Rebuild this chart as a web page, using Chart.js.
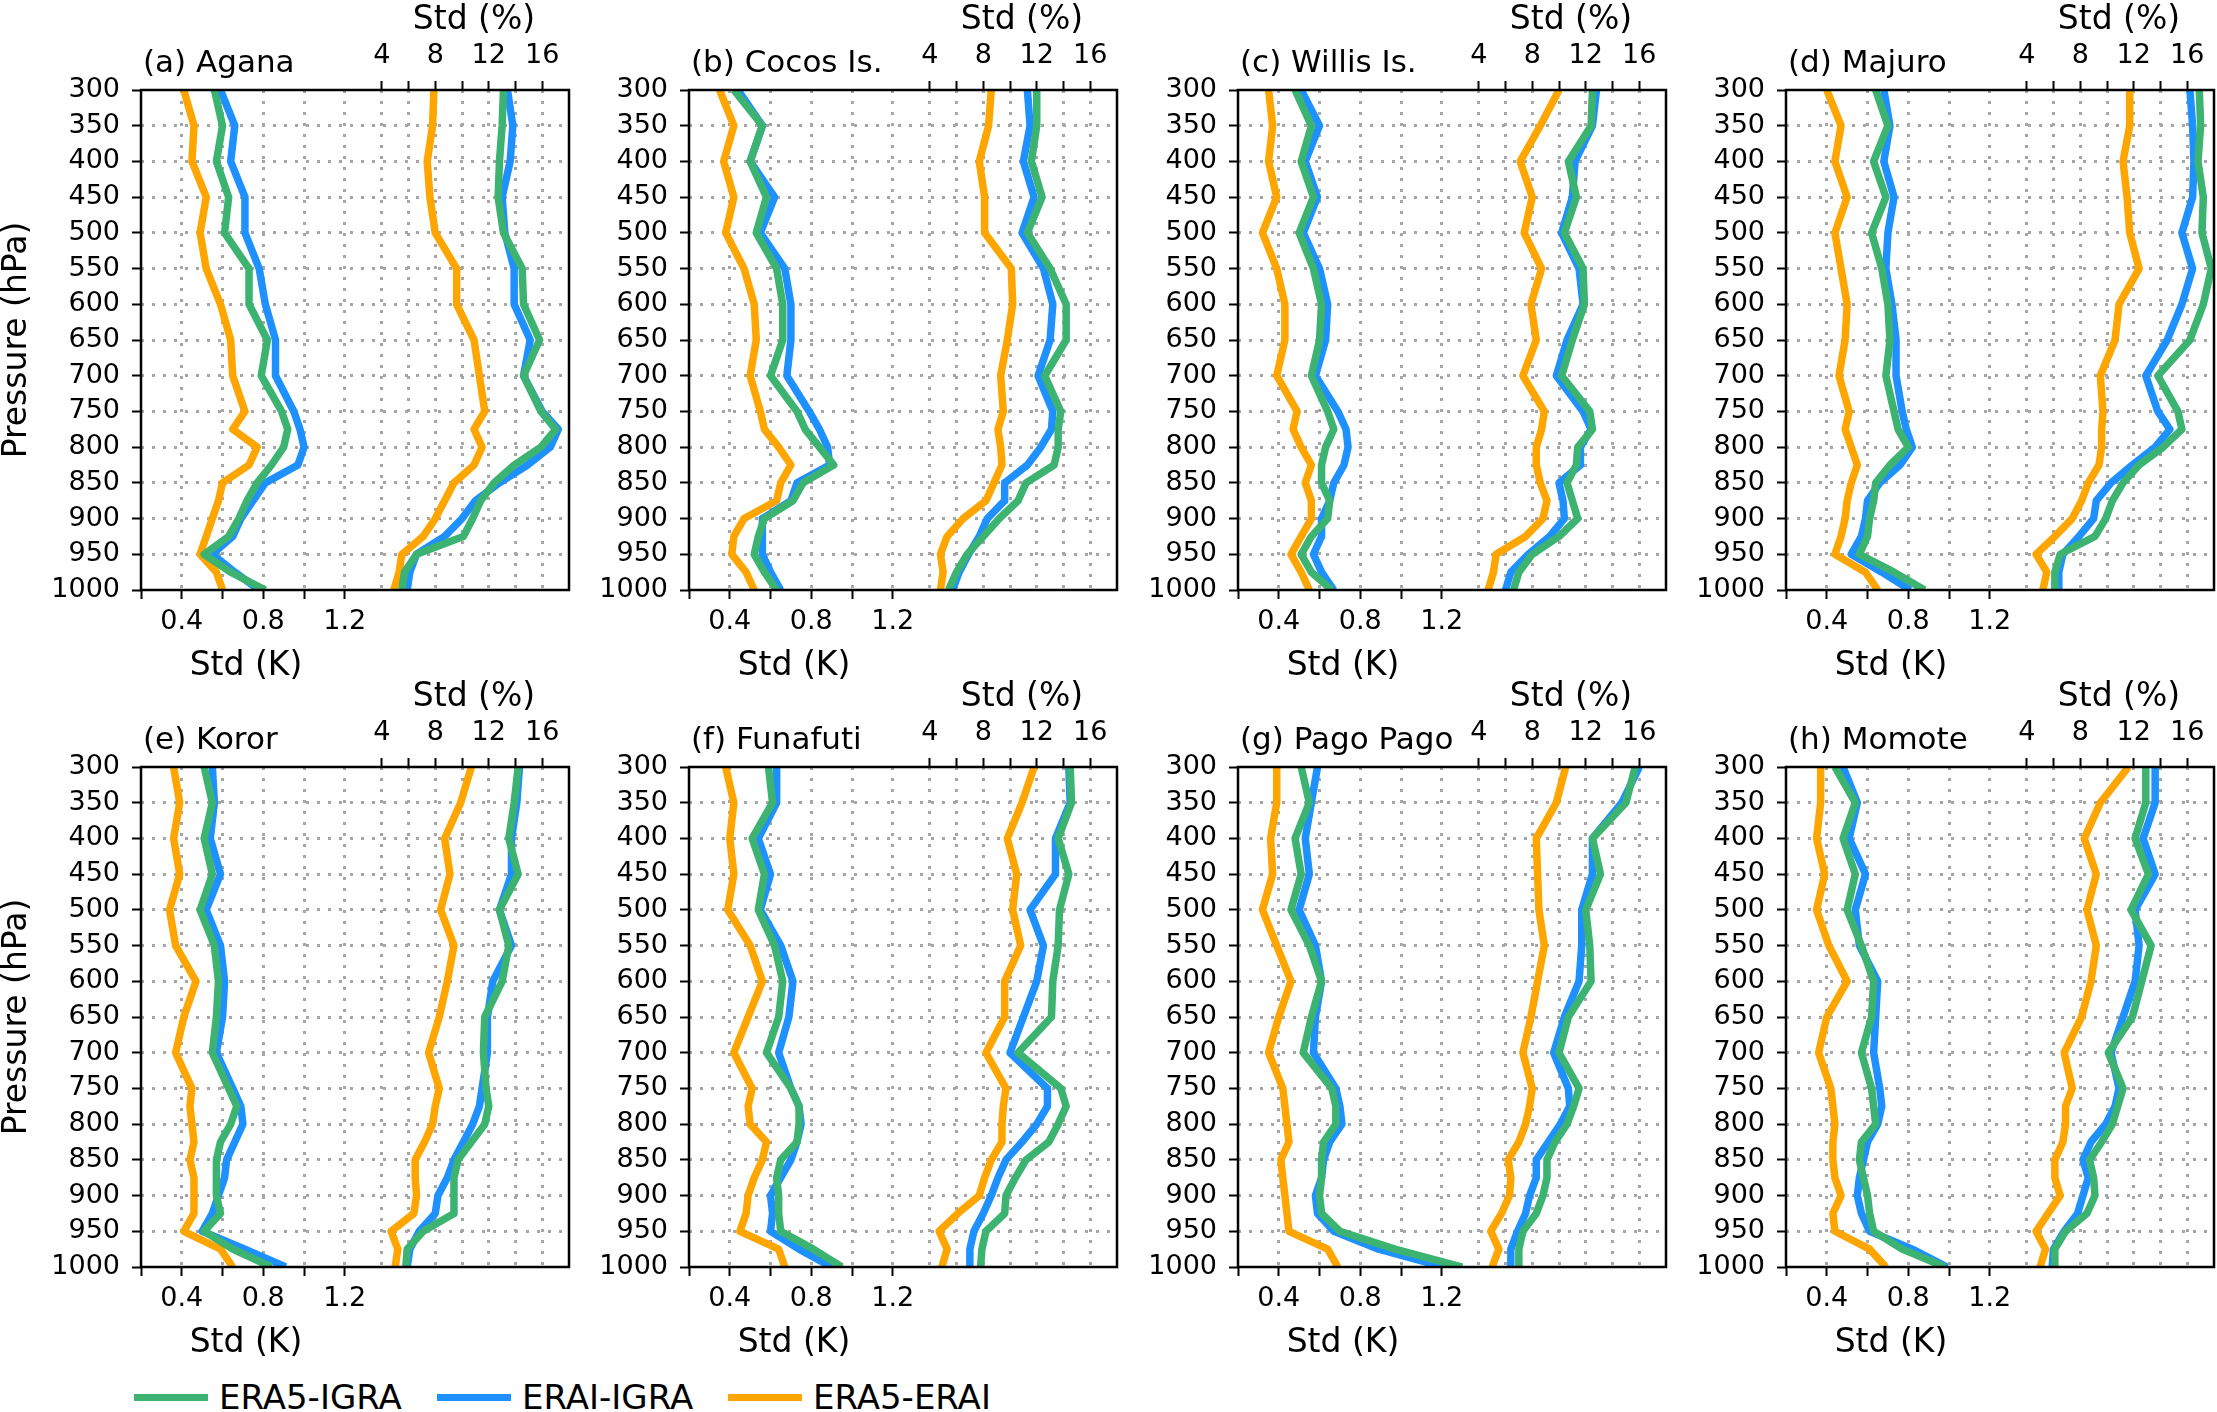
<!DOCTYPE html>
<html lang="en">
<head>
<meta charset="UTF-8" />
<title>Std profiles</title>
<script src="https://cdn.jsdelivr.net/npm/chart.js@4.4.1/dist/chart.umd.min.js"></script>
<style>
  body { margin: 0; background: #fff; }
  #page { position: relative; width: 2217px; height: 1412px; overflow: hidden; background: #fff; font-family: "DejaVu Sans", sans-serif; }
  #page canvas { position: absolute; }
  .legend-item { position: absolute; top: 1377px; height: 40px; display: flex; align-items: center; font-size: 34px; color: #000; white-space: nowrap; }
  .swatch { width: 74px; height: 7px; margin-right: 11px; }
</style>
</head>
<body>
<div id="page">
  <div class="legend-item" style="left:134px"><span class="swatch" style="background:#3CB371"></span>ERA5-IGRA</div>
  <div class="legend-item" style="left:437px"><span class="swatch" style="background:#1E90FF"></span>ERAI-IGRA</div>
  <div class="legend-item" style="left:728px"><span class="swatch" style="background:#FFA500"></span>ERA5-ERAI</div>
</div>
<script>
  // pressure levels (hPa)
  const PRESSURE = [300, 350, 400, 450, 500, 550, 600, 650, 700, 750, 775, 800, 825, 850, 875, 900, 925, 950, 975, 1000];
  const PRESSURE_TICKS = [300, 350, 400, 450, 500, 550, 600, 650, 700, 750, 800, 850, 900, 950, 1000];
  const K_TICKS = [0.2, 0.4, 0.6, 0.8, 1.0, 1.2];
  const K_LABELS = [0.4, 0.8, 1.2];
  const PCT_TICKS = [4, 6, 8, 10, 12, 14, 16];
  const PCT_LABELS = [4, 8, 12, 16];

  const STATIONS = ["(a) Agana", "(b) Cocos Is.", "(c) Willis Is.", "(d) Majuro",
                    "(e) Koror", "(f) Funafuti", "(g) Pago Pago", "(h) Momote"];
  const SERIES = ["ERA5-IGRA", "ERAI-IGRA", "ERA5-ERAI"];

  // (a) Agana
  const aganaKEra5Igra = [0.56, 0.60, 0.57, 0.63, 0.61, 0.73, 0.73, 0.82, 0.79, 0.89, 0.92, 0.90, 0.84, 0.77, 0.72, 0.68, 0.63, 0.51, 0.64, 0.81];
  const aganaKEraiIgra = [0.59, 0.66, 0.64, 0.71, 0.71, 0.78, 0.81, 0.86, 0.86, 0.95, 0.98, 1.00, 0.97, 0.81, 0.75, 0.69, 0.65, 0.55, 0.66, 0.78];
  const aganaKEra5Erai = [0.41, 0.46, 0.45, 0.52, 0.49, 0.52, 0.59, 0.64, 0.65, 0.71, 0.65, 0.77, 0.73, 0.60, 0.58, 0.55, 0.52, 0.49, 0.57, 0.60];
  const aganaPctEra5Igra = [13.1, 13.0, 12.8, 12.7, 13.1, 14.5, 14.6, 15.8, 14.6, 15.9, 17.0, 15.9, 13.9, 12.4, 11.4, 10.8, 10.1, 6.6, 5.7, 5.5];
  const aganaPctEraiIgra = [13.4, 13.8, 13.6, 13.0, 13.2, 13.9, 13.9, 15.1, 14.6, 16.0, 17.2, 16.6, 14.9, 12.8, 11.0, 10.0, 8.7, 6.6, 6.1, 5.9];
  const aganaPctEra5Erai = [7.9, 7.8, 7.4, 7.6, 8.0, 9.6, 9.6, 10.9, 11.3, 11.7, 10.9, 11.5, 10.9, 9.4, 8.7, 8.0, 7.1, 5.5, 5.3, 4.9];

  // (b) Cocos Is.
  const cocosKEra5Igra = [0.42, 0.56, 0.50, 0.58, 0.53, 0.63, 0.66, 0.66, 0.60, 0.73, 0.77, 0.84, 0.91, 0.76, 0.71, 0.57, 0.54, 0.52, 0.57, 0.63];
  const cocosKEraiIgra = [0.44, 0.56, 0.50, 0.62, 0.55, 0.67, 0.70, 0.70, 0.68, 0.79, 0.84, 0.88, 0.89, 0.73, 0.70, 0.56, 0.56, 0.56, 0.60, 0.65];
  const cocosKEra5Erai = [0.35, 0.42, 0.37, 0.42, 0.38, 0.47, 0.52, 0.53, 0.50, 0.55, 0.57, 0.64, 0.70, 0.65, 0.63, 0.47, 0.42, 0.41, 0.48, 0.52];
  const cocosPctEra5Igra = [12.0, 12.0, 11.6, 12.4, 11.3, 13.0, 14.2, 14.2, 12.6, 13.8, 13.6, 13.6, 13.3, 11.2, 10.6, 9.2, 8.0, 6.8, 6.0, 5.4];
  const cocosPctEraiIgra = [11.3, 11.5, 11.0, 11.8, 10.9, 12.5, 13.2, 13.0, 12.1, 13.2, 13.1, 12.3, 11.3, 9.6, 9.6, 8.3, 7.7, 6.9, 6.2, 5.7];
  const cocosPctEra5Erai = [8.6, 8.4, 7.7, 8.1, 8.1, 10.1, 10.2, 9.8, 9.3, 9.5, 9.1, 9.3, 9.4, 8.8, 8.2, 6.5, 5.3, 4.8, 5.0, 4.8];

  // (c) Willis Is.
  const willisKEra5Igra = [0.48, 0.56, 0.51, 0.57, 0.50, 0.57, 0.61, 0.60, 0.56, 0.64, 0.67, 0.63, 0.61, 0.61, 0.65, 0.64, 0.56, 0.51, 0.56, 0.66];
  const willisKEraiIgra = [0.51, 0.60, 0.53, 0.59, 0.52, 0.60, 0.64, 0.63, 0.58, 0.69, 0.73, 0.74, 0.72, 0.67, 0.65, 0.61, 0.61, 0.57, 0.61, 0.67];
  const willisKEra5Erai = [0.35, 0.37, 0.35, 0.39, 0.32, 0.39, 0.43, 0.43, 0.39, 0.49, 0.47, 0.51, 0.56, 0.53, 0.56, 0.56, 0.51, 0.46, 0.51, 0.55];
  const willisPctEra5Igra = [12.5, 12.4, 10.7, 11.3, 10.4, 11.8, 11.9, 11.0, 10.2, 12.3, 12.5, 11.4, 11.3, 10.6, 11.0, 11.4, 10.0, 8.0, 7.0, 6.6];
  const willisPctEraiIgra = [12.8, 12.5, 11.2, 11.0, 10.2, 11.5, 11.8, 10.6, 9.8, 11.8, 12.4, 11.6, 11.6, 10.0, 10.3, 10.4, 9.3, 7.7, 6.4, 6.0];
  const willisPctEra5Erai = [10.0, 8.6, 7.1, 8.0, 7.4, 8.7, 7.9, 8.3, 7.3, 8.9, 8.7, 8.3, 8.3, 8.6, 9.1, 8.8, 7.5, 5.3, 5.1, 4.7];

  // (d) Majuro
  const majuroKEra5Igra = [0.64, 0.70, 0.63, 0.69, 0.62, 0.67, 0.70, 0.71, 0.69, 0.73, 0.75, 0.80, 0.71, 0.64, 0.63, 0.61, 0.60, 0.56, 0.73, 0.88];
  const majuroKEraiIgra = [0.68, 0.71, 0.68, 0.73, 0.70, 0.69, 0.72, 0.74, 0.74, 0.77, 0.79, 0.82, 0.76, 0.66, 0.60, 0.59, 0.57, 0.52, 0.67, 0.81];
  const majuroKEra5Erai = [0.40, 0.47, 0.44, 0.50, 0.44, 0.47, 0.50, 0.49, 0.46, 0.51, 0.49, 0.52, 0.55, 0.52, 0.50, 0.49, 0.47, 0.44, 0.59, 0.65];
  const majuroPctEra5Igra = [16.9, 17.0, 16.8, 17.2, 17.1, 17.8, 17.2, 16.2, 13.8, 15.3, 15.6, 14.2, 12.4, 11.2, 10.4, 9.9, 9.1, 6.5, 6.1, 6.1];
  const majuroPctEraiIgra = [16.2, 16.4, 16.5, 16.4, 15.6, 16.4, 15.6, 14.5, 12.9, 13.8, 14.7, 13.6, 11.9, 10.3, 9.2, 9.0, 7.9, 6.7, 6.4, 6.4];
  const majuroPctEra5Erai = [11.7, 11.7, 11.2, 11.5, 11.7, 12.4, 10.9, 10.6, 9.5, 9.7, 9.6, 9.6, 9.4, 8.6, 8.1, 7.4, 6.1, 4.7, 5.5, 5.2];

  // (e) Koror
  const kororKEra5Igra = [0.51, 0.55, 0.51, 0.55, 0.49, 0.56, 0.58, 0.57, 0.55, 0.63, 0.67, 0.64, 0.59, 0.57, 0.57, 0.57, 0.59, 0.51, 0.65, 0.84];
  const kororKEraiIgra = [0.55, 0.56, 0.54, 0.59, 0.52, 0.59, 0.61, 0.60, 0.57, 0.65, 0.69, 0.70, 0.66, 0.62, 0.61, 0.58, 0.55, 0.50, 0.71, 0.91];
  const kororKEra5Erai = [0.36, 0.39, 0.36, 0.39, 0.34, 0.37, 0.47, 0.41, 0.37, 0.45, 0.44, 0.45, 0.46, 0.44, 0.46, 0.46, 0.46, 0.41, 0.59, 0.65];
  const kororPctEra5Igra = [14.2, 13.9, 13.5, 14.2, 12.8, 13.5, 13.0, 11.7, 11.6, 11.8, 12.0, 11.7, 10.7, 9.7, 9.4, 9.4, 9.4, 7.1, 5.9, 5.8];
  const kororPctEraiIgra = [14.3, 14.1, 13.7, 13.7, 12.8, 13.7, 12.3, 11.9, 11.9, 11.5, 11.3, 10.8, 10.1, 9.4, 8.9, 8.2, 8.0, 6.8, 6.1, 5.9];
  const kororPctEra5Erai = [10.7, 9.9, 8.7, 9.1, 8.4, 9.4, 8.9, 8.3, 7.5, 8.3, 8.0, 7.8, 7.2, 6.5, 6.5, 6.6, 6.4, 4.7, 5.2, 5.0];

  // (f) Funafuti
  const funafutiKEra5Igra = [0.59, 0.61, 0.51, 0.57, 0.54, 0.62, 0.66, 0.64, 0.58, 0.70, 0.74, 0.74, 0.73, 0.65, 0.63, 0.64, 0.64, 0.65, 0.81, 0.95];
  const funafutiKEraiIgra = [0.63, 0.63, 0.54, 0.60, 0.55, 0.65, 0.71, 0.69, 0.64, 0.70, 0.74, 0.75, 0.73, 0.70, 0.65, 0.60, 0.61, 0.60, 0.74, 0.90];
  const funafutiKEra5Erai = [0.38, 0.42, 0.40, 0.42, 0.39, 0.50, 0.56, 0.49, 0.42, 0.51, 0.49, 0.50, 0.58, 0.56, 0.52, 0.49, 0.48, 0.45, 0.64, 0.67];
  const funafutiPctEra5Igra = [14.5, 14.6, 13.6, 14.4, 13.7, 13.6, 13.2, 13.1, 10.6, 13.8, 14.2, 13.6, 12.9, 11.2, 10.4, 9.7, 9.6, 8.2, 7.9, 7.8];
  const funafutiPctEraiIgra = [14.4, 14.5, 13.4, 13.4, 11.5, 12.5, 12.0, 11.0, 10.0, 12.8, 12.8, 12.0, 10.9, 9.7, 9.1, 8.6, 8.0, 7.3, 7.0, 7.0];
  const funafutiPctEra5Erai = [11.8, 10.9, 9.8, 10.5, 10.2, 10.8, 9.6, 9.6, 8.2, 9.7, 9.5, 9.4, 9.4, 8.6, 8.1, 7.7, 6.1, 4.7, 5.3, 4.9];

  // (g) Pago Pago
  const pagoKEra5Igra = [0.51, 0.55, 0.48, 0.51, 0.46, 0.55, 0.61, 0.56, 0.52, 0.66, 0.68, 0.68, 0.62, 0.61, 0.61, 0.60, 0.61, 0.70, 0.97, 1.30];
  const pagoKEraiIgra = [0.59, 0.56, 0.53, 0.55, 0.50, 0.58, 0.61, 0.58, 0.57, 0.68, 0.70, 0.71, 0.65, 0.62, 0.61, 0.58, 0.59, 0.67, 0.89, 1.21];
  const pagoKEra5Erai = [0.39, 0.39, 0.36, 0.37, 0.32, 0.39, 0.46, 0.40, 0.35, 0.42, 0.43, 0.44, 0.45, 0.41, 0.42, 0.43, 0.44, 0.45, 0.64, 0.69];
  const pagoPctEra5Igra = [15.7, 15.0, 12.5, 13.1, 12.0, 12.3, 12.4, 10.7, 10.0, 11.5, 11.1, 10.6, 9.7, 9.1, 9.1, 8.8, 8.3, 7.3, 7.0, 7.0];
  const pagoPctEraiIgra = [16.0, 14.7, 12.5, 12.5, 11.7, 11.7, 11.5, 10.4, 9.6, 10.7, 10.8, 10.1, 9.2, 8.3, 8.3, 7.8, 7.5, 6.9, 6.4, 6.4];
  const pagoPctEra5Erai = [10.5, 9.8, 8.3, 8.4, 8.5, 8.9, 8.4, 7.9, 7.3, 8.0, 7.8, 7.5, 7.0, 6.2, 6.4, 6.3, 5.7, 4.9, 5.5, 5.0];

  // (h) Momote
  const momoteKEra5Igra = [0.44, 0.54, 0.48, 0.54, 0.50, 0.57, 0.63, 0.62, 0.57, 0.62, 0.63, 0.64, 0.57, 0.56, 0.58, 0.60, 0.61, 0.63, 0.77, 0.98];
  const momoteKEraiIgra = [0.48, 0.55, 0.51, 0.59, 0.54, 0.56, 0.65, 0.64, 0.63, 0.66, 0.67, 0.65, 0.60, 0.58, 0.56, 0.55, 0.57, 0.61, 0.82, 0.99];
  const momoteKEra5Erai = [0.37, 0.37, 0.35, 0.39, 0.35, 0.41, 0.50, 0.40, 0.36, 0.42, 0.43, 0.44, 0.43, 0.43, 0.44, 0.47, 0.43, 0.44, 0.61, 0.69];
  const momotePctEra5Igra = [12.9, 12.9, 12.1, 13.1, 11.8, 13.3, 12.6, 11.9, 10.1, 11.2, 10.8, 10.4, 9.6, 8.7, 9.0, 9.1, 8.5, 6.9, 6.1, 6.1];
  const momotePctEraiIgra = [13.6, 13.6, 12.7, 13.6, 12.1, 12.4, 12.1, 11.2, 10.3, 10.9, 10.6, 9.9, 8.8, 8.2, 8.6, 8.2, 7.8, 6.8, 6.0, 5.9];
  const momotePctEra5Erai = [11.6, 9.5, 8.3, 9.2, 8.5, 9.2, 8.8, 8.1, 6.8, 7.4, 6.9, 6.9, 6.7, 6.1, 6.1, 6.5, 5.6, 4.7, 5.4, 5.0];

  const COLORS = ["#3CB371", "#1E90FF", "#FFA500"];
  const GRID = "#a6a6a6";
  const NONE = "rgba(0,0,0,0)";
  const FONT = "DejaVu Sans";

  const panels = [
    { k: [aganaKEra5Igra, aganaKEraiIgra, aganaKEra5Erai], pct: [aganaPctEra5Igra, aganaPctEraiIgra, aganaPctEra5Erai] },
    { k: [cocosKEra5Igra, cocosKEraiIgra, cocosKEra5Erai], pct: [cocosPctEra5Igra, cocosPctEraiIgra, cocosPctEra5Erai] },
    { k: [willisKEra5Igra, willisKEraiIgra, willisKEra5Erai], pct: [willisPctEra5Igra, willisPctEraiIgra, willisPctEra5Erai] },
    { k: [majuroKEra5Igra, majuroKEraiIgra, majuroKEra5Erai], pct: [majuroPctEra5Igra, majuroPctEraiIgra, majuroPctEra5Erai] },
    { k: [kororKEra5Igra, kororKEraiIgra, kororKEra5Erai], pct: [kororPctEra5Igra, kororPctEraiIgra, kororPctEra5Erai] },
    { k: [funafutiKEra5Igra, funafutiKEraiIgra, funafutiKEra5Erai], pct: [funafutiPctEra5Igra, funafutiPctEraiIgra, funafutiPctEra5Erai] },
    { k: [pagoKEra5Igra, pagoKEraiIgra, pagoKEra5Erai], pct: [pagoPctEra5Igra, pagoPctEraiIgra, pagoPctEra5Erai] },
    { k: [momoteKEra5Igra, momoteKEraiIgra, momoteKEra5Erai], pct: [momotePctEra5Igra, momotePctEraiIgra, momotePctEra5Erai] },
  ];

  // page layout (plot area left edges and top edges)
  const COL_LEFT = [141, 689, 1238, 1786];
  const ROW_TOP = [90, 767];
  const Y_AXIS_W = 141, TOP_AXIS_H = 90, BOTTOM_AXIS_H = 110;
  const CANVAS_W = 577, CANVAS_H = 700;

  // titles, axis labels and frame
  const panelText = {
    id: "panelText",
    afterDraw(chart, args, opts) {
      const ctx = chart.ctx;
      const a = chart.chartArea;
      ctx.save();
      ctx.fillStyle = "#000";
      ctx.textBaseline = "middle";
      ctx.textAlign = "left";
      ctx.font = `31px "${FONT}"`;
      ctx.fillText(opts.title, a.left + 2, a.top - 26);
      ctx.font = `33px "${FONT}"`;
      ctx.textAlign = "center";
      ctx.fillText("Std (K)", a.left + 105, a.bottom + 76);
      ctx.fillText("Std (%)", a.left + 333, a.top - 70);
      if (opts.showY) {
        ctx.translate(17, a.top + a.height / 2);
        ctx.rotate(-Math.PI / 2);
        ctx.fillText("Pressure (hPa)", 0, 0);
        ctx.setTransform(1, 0, 0, 1, 0, 0);
      }
      ctx.lineWidth = 2.5;
      ctx.strokeStyle = "#000";
      ctx.strokeRect(a.left, a.top, a.width, a.height);
      ctx.restore();
    },
  };

  function makeDataset(label, color, values, axisId) {
    return {
      label: label,
      data: values.map((v, i) => ({ x: v, y: PRESSURE[i] })),
      xAxisID: axisId,
      yAxisID: "y",
      borderColor: color,
      backgroundColor: color,
      borderWidth: 7.5,
      borderJoinStyle: "round",
      pointRadius: 0,
      tension: 0,
      fill: false,
    };
  }

  function tickFont() {
    return { family: FONT, size: 27 };
  }

  const page = document.getElementById("page");

  panels.forEach((panel, idx) => {
    const col = idx % 4;
    const row = Math.floor(idx / 4);
    const canvas = document.createElement("canvas");
    canvas.width = CANVAS_W;
    canvas.height = CANVAS_H;
    canvas.style.left = COL_LEFT[col] - Y_AXIS_W + "px";
    canvas.style.top = ROW_TOP[row] - TOP_AXIS_H + "px";
    canvas.style.width = CANVAS_W + "px";
    canvas.style.height = CANVAS_H + "px";
    page.appendChild(canvas);

    const datasets = [];
    SERIES.forEach((name, s) => datasets.push(makeDataset(name, COLORS[s], panel.k[s], "x")));
    SERIES.forEach((name, s) => datasets.push(makeDataset(name, COLORS[s], panel.pct[s], "x2")));

    new Chart(canvas.getContext("2d"), {
      type: "line",
      data: { datasets: datasets },
      options: {
        responsive: false,
        animation: false,
        devicePixelRatio: 1,
        layout: { padding: { left: 0, right: 8, top: 0, bottom: 0 } },
        plugins: {
          legend: { display: false },
          tooltip: { enabled: false },
          panelText: { title: STATIONS[idx], showY: col === 0 },
        },
        scales: {
          x: {
            type: "linear",
            position: "bottom",
            min: 0.2,
            max: 2.3,
            afterBuildTicks: (s) => { s.ticks = K_TICKS.map((v) => ({ value: v })); },
            afterFit: (s) => { s.height = BOTTOM_AXIS_H; },
            ticks: {
              autoSkip: false,
              maxRotation: 0,
              padding: 7,
              color: "#000",
              font: tickFont(),
              callback: (v) => (K_LABELS.includes(v) ? v.toFixed(1) : ""),
            },
            grid: {
              color: (c) => (c.tick && c.tick.value > 0.21 ? GRID : NONE),
              lineWidth: 3,
              tickColor: "#000",
              tickWidth: 2,
              tickLength: 9,
            },
            border: { display: false, dash: [3, 8] },
          },
          x2: {
            type: "linear",
            position: "top",
            min: -14,
            max: 18,
            afterBuildTicks: (s) => { s.ticks = PCT_TICKS.map((v) => ({ value: v })); },
            afterFit: (s) => { s.height = TOP_AXIS_H; },
            ticks: {
              autoSkip: false,
              maxRotation: 0,
              padding: 9,
              color: "#000",
              font: tickFont(),
              callback: (v) => (PCT_LABELS.includes(v) ? String(v) : ""),
            },
            grid: {
              color: GRID,
              lineWidth: 3,
              tickColor: "#000",
              tickWidth: 2,
              tickLength: 9,
            },
            border: { display: false, dash: [3, 8] },
          },
          y: {
            type: "linear",
            position: "left",
            reverse: true,
            min: 300,
            max: 1000,
            afterBuildTicks: (s) => { s.ticks = PRESSURE_TICKS.map((v) => ({ value: v })); },
            afterFit: (s) => { s.width = Y_AXIS_W; },
            ticks: {
              autoSkip: false,
              padding: 12,
              color: "#000",
              font: tickFont(),
              callback: (v) => String(v),
            },
            grid: {
              color: (c) => (c.tick && (c.tick.value === 300 || c.tick.value === 1000) ? NONE : GRID),
              lineWidth: 3,
              tickColor: "#000",
              tickWidth: 2,
              tickLength: 9,
            },
            border: { display: false, dash: [3, 8] },
          },
        },
      },
      plugins: [panelText],
    });
  });
</script>
</body>
</html>
